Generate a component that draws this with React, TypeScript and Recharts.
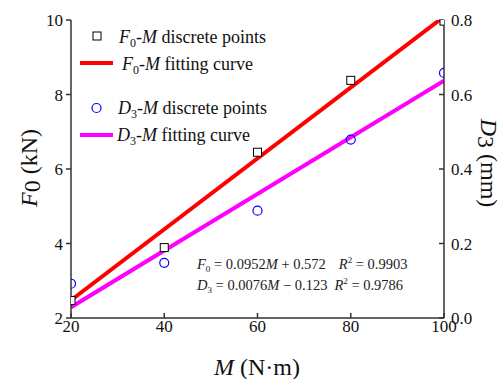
import { ComposedChart, Customized, Line, Scatter, XAxis, YAxis } from "recharts"

const M_VALUES = [20, 40, 60, 80, 100]
const F0_POINTS = [2.47, 3.89, 6.45, 8.38, 9.97]
const D3_POINTS = [0.092, 0.148, 0.288, 0.479, 0.658]

// fitted lines, evaluated at the ends of the M range
const FIT_M = [20, 100]
const F0_FIT = [2.476, 10.092]
const D3_FIT = [0.029, 0.637]

const X_TICKS = [20, 40, 60, 80, 100]
const F0_TICKS = [2, 4, 6, 8, 10]
const D3_TICKS = [0, 0.2, 0.4, 0.6, 0.8]

const FONT = "'Liberation Serif', 'Times New Roman', serif"
const AXIS = "#333"

const W = 503
const H = 379
const MARGIN = { top: 20, right: 9, bottom: 31, left: 21 }
const Y_AXIS_W = 50
const X_AXIS_H = 30

const f0Points = M_VALUES.map((m, i) => ({ m, v: F0_POINTS[i] }))
const d3Points = M_VALUES.map((m, i) => ({ m, v: D3_POINTS[i] }))
const f0Fit = FIT_M.map((m, i) => ({ m, v: F0_FIT[i] }))
const d3Fit = FIT_M.map((m, i) => ({ m, v: D3_FIT[i] }))

// markers are cut at the plot frame, like the lines
const Square = (p: any) => (
  <rect
    x={p.cx - 4}
    y={p.cy - 4}
    width={8}
    height={8}
    fill="#fff"
    stroke="#000"
    strokeWidth={1}
    clipPath="url(#plot-clip)"
  />
)
const Circle = (p: any) => (
  <circle cx={p.cx} cy={p.cy} r={4.5} fill="none" stroke="#0000ff" strokeWidth={1.2} clipPath="url(#plot-clip)" />
)

const tick = { fontFamily: FONT, fontSize: 17, fill: "#111" }

function PlotClip() {
  const x = MARGIN.left + Y_AXIS_W
  const y = MARGIN.top
  return (
    <defs>
      <clipPath id="plot-clip">
        <rect x={x} y={y} width={W - x - MARGIN.right - Y_AXIS_W} height={H - y - MARGIN.bottom - X_AXIS_H} />
      </clipPath>
    </defs>
  )
}

function LegendBox() {
  const txt = { fontFamily: FONT, fontSize: 18, fill: "#111" }
  const sub = { fontSize: 12 }
  return (
    <g>
      <rect x={93} y={32} width={8} height={8} fill="#fff" stroke="#000" />
      <text x={119} y={43} {...txt}>
        <tspan fontStyle="italic">F</tspan>
        <tspan {...sub} dy={4}>0</tspan>
        <tspan dy={-4}>-</tspan>
        <tspan fontStyle="italic">M</tspan> discrete points
      </text>
      <line x1={80} y1={63} x2={113} y2={63} stroke="#ff0000" strokeWidth={4} />
      <text x={122} y={70} {...txt}>
        <tspan fontStyle="italic">F</tspan>
        <tspan {...sub} dy={4}>0</tspan>
        <tspan dy={-4}>-</tspan>
        <tspan fontStyle="italic">M</tspan> fitting curve
      </text>
      <circle cx={96.5} cy={108} r={4.5} fill="none" stroke="#0000ff" strokeWidth={1.2} />
      <text x={118} y={114} {...txt}>
        <tspan fontStyle="italic">D</tspan>
        <tspan {...sub} dy={4}>3</tspan>
        <tspan dy={-4}>-</tspan>
        <tspan fontStyle="italic">M</tspan> discrete points
      </text>
      <line x1={80} y1={135} x2={113} y2={135} stroke="#ff00ff" strokeWidth={4} />
      <text x={117} y={141} {...txt}>
        <tspan fontStyle="italic">D</tspan>
        <tspan {...sub} dy={4}>3</tspan>
        <tspan dy={-4}>-</tspan>
        <tspan fontStyle="italic">M</tspan> fitting curve
      </text>
    </g>
  )
}

function Annotations() {
  const eq = { fontFamily: FONT, fontSize: 14.5, fill: "#222" }
  const title = { fontFamily: FONT, fontSize: 24, fill: "#111" }
  return (
    <g>
      <LegendBox />
      <text x={197} y={269} {...eq}>
        <tspan fontStyle="italic">F</tspan>
        <tspan fontSize={9} dy={3}>0</tspan>
        <tspan dy={-3}> = 0.0952</tspan>
        <tspan fontStyle="italic">M</tspan>
        <tspan> + 0.572</tspan>
        <tspan dx={13} fontStyle="italic">R</tspan>
        <tspan fontSize={9} dy={-6}>2</tspan>
        <tspan dy={6}> = 0.9903</tspan>
      </text>
      <text x={197} y={290} {...eq}>
        <tspan fontStyle="italic">D</tspan>
        <tspan fontSize={9} dy={3}>3</tspan>
        <tspan dy={-3}> = 0.0076</tspan>
        <tspan fontStyle="italic">M</tspan>
        <tspan> − 0.123</tspan>
        <tspan dx={7} fontStyle="italic">R</tspan>
        <tspan fontSize={9} dy={-6}>2</tspan>
        <tspan dy={6}> = 0.9786</tspan>
      </text>
      <text x={257} y={375} textAnchor="middle" {...title}>
        <tspan fontStyle="italic">M</tspan> (N·m)
      </text>
      <text x={37} y={168} textAnchor="middle" transform="rotate(-90 37 168)" {...title}>
        <tspan fontStyle="italic">F</tspan>
        <tspan dy={3}>0</tspan>
        <tspan dy={-3}> (kN)</tspan>
      </text>
      <text x={481} y={163} textAnchor="middle" transform="rotate(90 481 163)" {...title}>
        <tspan fontStyle="italic">D</tspan>
        <tspan dy={3}>3</tspan>
        <tspan dy={-3}> (mm)</tspan>
      </text>
    </g>
  )
}

export default function App() {
  return (
    <div style={{ position: "absolute", left: 0, top: 0, width: W, height: H, background: "#fff" }}>
      <ComposedChart width={W} height={H} margin={MARGIN}>
        <Customized component={PlotClip} />
        <XAxis
          type="number"
          dataKey="m"
          domain={[20, 100]}
          ticks={X_TICKS}
          allowDataOverflow
          tick={tick}
          tickSize={-5}
          tickMargin={7}
          height={X_AXIS_H}
          stroke={AXIS}
          strokeWidth={1.5}
        />
        <YAxis
          yAxisId="f0"
          type="number"
          dataKey="v"
          domain={[2, 10]}
          ticks={F0_TICKS}
          allowDataOverflow
          tick={tick}
          tickSize={5}
          tickMargin={3}
          width={Y_AXIS_W}
          stroke={AXIS}
          strokeWidth={1.5}
        />
        <YAxis
          yAxisId="d3"
          orientation="right"
          type="number"
          dataKey="v"
          domain={[0, 0.8]}
          ticks={D3_TICKS}
          allowDataOverflow
          tickFormatter={(v) => Number(v).toFixed(1)}
          tick={tick}
          tickSize={-5}
          tickMargin={12}
          width={Y_AXIS_W}
          stroke={AXIS}
          strokeWidth={1.5}
        />
        <Scatter yAxisId="f0" data={f0Points} dataKey="v" shape={Square} isAnimationActive={false} />
        <Scatter yAxisId="d3" data={d3Points} dataKey="v" shape={Circle} isAnimationActive={false} />
        <Line
          yAxisId="f0"
          data={f0Fit}
          dataKey="v"
          stroke="#ff0000"
          strokeWidth={4}
          dot={false}
          isAnimationActive={false}
        />
        <Line
          yAxisId="d3"
          data={d3Fit}
          dataKey="v"
          stroke="#ff00ff"
          strokeWidth={4}
          dot={false}
          isAnimationActive={false}
        />
        <Customized component={Annotations} />
      </ComposedChart>
    </div>
  )
}
